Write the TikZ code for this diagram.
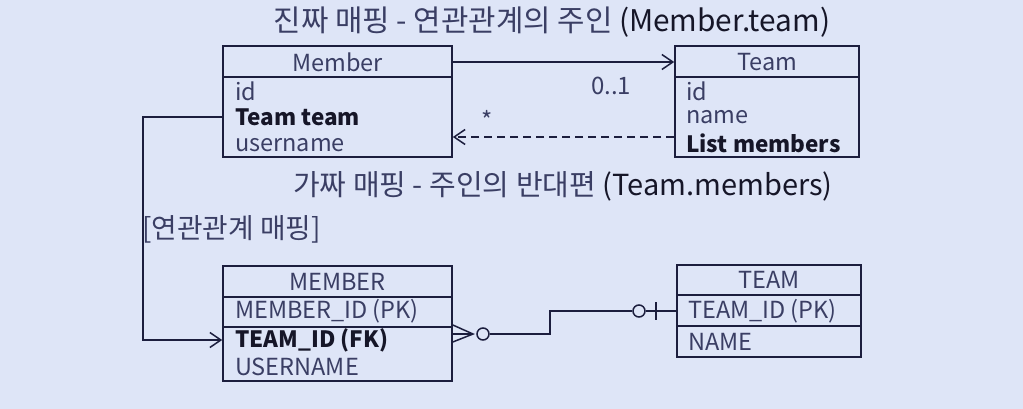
\documentclass[tikz,border=0pt]{standalone}
\usepackage{fontspec}
\setmainfont{Noto Sans CJK KR}
\usetikzlibrary{arrows.meta}
\definecolor{bg}{RGB}{222,229,247}
\definecolor{ink}{RGB}{28,30,62}
\definecolor{txt}{RGB}{58,62,100}
\definecolor{dark}{RGB}{22,22,40}
\begin{document}
\begin{tikzpicture}[x=1pt,y=-1pt,
  box/.style={draw=ink,line width=1.6pt,rectangle,inner sep=0pt},
  sep/.style={draw=ink,line width=1.4pt},
  fld/.style={anchor=west,inner sep=0pt,text=txt,font=\fontsize{23.5}{23.5}\selectfont},
  bfld/.style={fld,text=dark,font=\fontsize{22.5}{22.5}\selectfont\bfseries},
  hdr/.style={inner sep=0pt,text=txt,font=\fontsize{23.5}{23.5}\selectfont},
  ttl/.style={inner sep=0pt,text=txt,font=\fontsize{29}{29}\selectfont},
  conn/.style={draw=ink,line width=1.5pt},
  barb/.style={-{Straight Barb[length=11pt,width=15pt,line width=1.5pt]}}]
\fill[bg] (0,0) rectangle (1023,409);
\useasboundingbox (0,0) rectangle (1023,409);
% titles
\node[ttl,font=\fontsize{29.8}{29.8}\selectfont] (t1) at (552,22) {진짜 매핑 - 연관관계의 주인 {\color{dark}(Member.team)}};
\node[ttl] (t2) at (563,186) {가짜 매핑 - 주인의 반대편 {\color{dark}(Team.members)}};
\node[ttl,anchor=west,font=\fontsize{27.8}{27.8}\selectfont] (t3) at (142,229) {[연관관계 매핑]};
% Member class
\node[box,minimum width=229pt,minimum height=111pt] (member) at (337.5,101.5) {};
\draw[sep] (223,77) -- (452,77);
\node[hdr] (mh) at (337.5,62) {Member};
\node[fld] (m1) at (235,91) {id};
\node[bfld] (m2) at (235,117) {Team team};
\node[fld] (m3) at (235,145) {username};
% Team class
\node[box,minimum width=184pt,minimum height=111pt] (team) at (767,101.5) {};
\draw[sep] (675,77) -- (859,77);
\node[hdr] (th) at (767,62) {Team};
\node[fld] (t1a) at (686,91) {id};
\node[fld] (t2a) at (686,117) {name};
\node[bfld] (t3a) at (686,143) {List members};
% associations
\draw[conn,barb] (member.east |- 0,62) -- (team.west |- 0,62);
\node[inner sep=0pt,text=txt,font=\fontsize{24}{24}\selectfont] (l01) at (611,86) {0..1};
\draw[conn,barb,dash pattern=on 8pt off 5pt] (team.west |- 0,137) -- (member.east |- 0,137);
\node[inner sep=0pt,text=txt,font=\fontsize{24}{24}\selectfont] (lst) at (487,120) {*};
% MEMBER table
\node[box,minimum width=229pt,minimum height=115pt] (MEM) at (337.5,323.5) {};
\draw[sep] (223,297) -- (452,297);
\draw[sep] (223,327) -- (452,327);
\node[hdr] (Mh) at (337.5,282) {MEMBER};
\node[fld] (M1) at (235,311) {MEMBER\_ID (PK)};
\node[bfld] (M2) at (235,340) {TEAM\_ID (FK)};
\node[fld] (M3) at (235,367) {USERNAME};
% TEAM table
\node[box,minimum width=184pt,minimum height=92pt] (TEA) at (769,311) {};
\draw[sep] (677,295) -- (861,295);
\draw[sep] (677,326) -- (861,326);
\node[hdr] (Th) at (769,280) {TEAM};
\node[fld] (T1) at (688,311) {TEAM\_ID (PK)};
\node[fld] (T2) at (688,342) {NAME};
% mapping arrow
\coordinate (c1) at (143,117);
\coordinate (c2) at (143,340);
\draw[conn,barb] (member.west |- m2) -- (c1) -- (c2) -- (MEM.west |- c2);
% ER relation
\coordinate (cf) at (473,334);
\draw[conn] (MEM.east |- 0,325) -- (cf) -- (MEM.east |- 0,342);
\draw[conn] (MEM.east |- cf) -- (cf);
\node[circle,draw=ink,line width=1.5pt,minimum size=12pt,inner sep=0pt,fill=bg] (o1) at (483,334) {};
\node[circle,draw=ink,line width=1.5pt,minimum size=12pt,inner sep=0pt,fill=bg] (o2) at (639,311) {};
\coordinate (k1) at (550,334);
\coordinate (k2) at (550,311);
\draw[conn] (o1) -- (k1) -- (k2) -- (o2);
\draw[conn] (o2) -- (TEA.west |- o2);
\draw[conn] (656,302) -- (656,320);
\end{tikzpicture}
\end{document}
